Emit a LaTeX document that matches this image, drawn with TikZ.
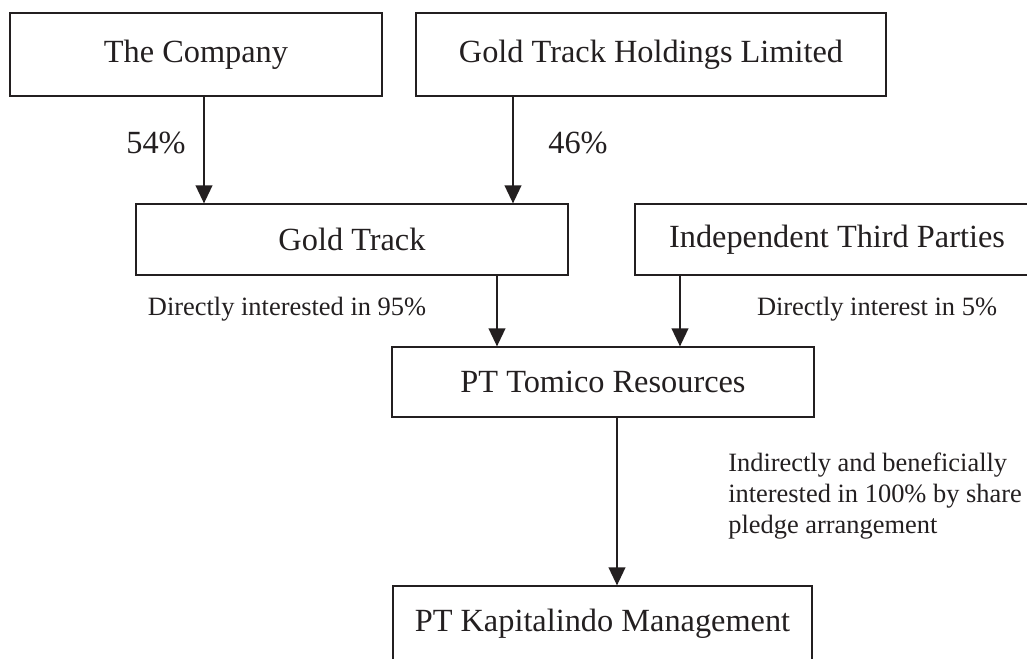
\documentclass[tikz,border=0pt]{standalone}
\usepackage{fontspec}
\setmainfont{Liberation Serif}
\usetikzlibrary{arrows.meta}
\definecolor{ink}{HTML}{231F20}
\tikzset{
  obox/.style={
    draw=ink, text=ink, line width=0.9pt, inner sep=0pt,
    align=center, font=\fontsize{23}{27}\selectfont
  },
  olink/.style={draw=ink, line width=1pt, -{Triangle[length=0.45cm, width=0.42cm]}},
  pct/.style={text=ink, inner sep=0pt, font=\fontsize{23}{27}\selectfont},
  onote/.style={text=ink, inner sep=0pt, align=left, font=\fontsize{18.8}{22.3}\selectfont}
}

\begin{document}
\begin{tikzpicture}
  \path[use as bounding box, clip] (0,0) rectangle (25.675,-16.475);

  % ---- Shareholders --------------------------------------------------------
  \node[obox, minimum width=9.3cm, minimum height=2.075cm] (company) at (4.9,-1.3625) {The Company};
  \node[obox, minimum width=11.75cm, minimum height=2.075cm] (gth) at (16.275,-1.3625) {Gold Track Holdings Limited};

  % ---- Middle tier ---------------------------------------------------------
  \node[obox, minimum width=10.8cm, minimum height=1.775cm] (goldtrack) at (8.8,-5.9875) {Gold Track};
  \node[obox, minimum width=10.1cm, minimum height=1.775cm] (itp) at (20.925,-5.9875) {Independent Third Parties};

  % ---- Operating companies -------------------------------------------------
  \node[obox, minimum width=10.55cm, minimum height=1.75cm] (tomico) at (15.075,-9.55) {PT Tomico Resources};
  \node[obox, minimum width=10.475cm, minimum height=1.9cm] (kapital) at (15.0625,-15.6) {PT Kapitalindo Management};

  % ---- Holdings ------------------------------------------------------------
  \draw[olink] (5.1,0 |- company.south) -- (5.1,0 |- goldtrack.north);
  \draw[olink] (12.825,0 |- gth.south) -- (12.825,0 |- goldtrack.north);
  \draw[olink] (12.425,0 |- goldtrack.south) -- (12.425,0 |- tomico.north);
  \draw[olink] (17.0,0 |- itp.south) -- (17.0,0 |- tomico.north);
  \draw[olink] (15.425,0 |- tomico.south) -- (15.425,0 |- kapital.north);

  % ---- Percentages ---------------------------------------------------------
  \node[pct] (p54) at (3.9,-3.575) {54\%};
  \node[pct] (p46) at (14.45,-3.575) {46\%};
  \node[onote] (n95) at (7.175,-7.725) {Directly interested in 95\%};
  \node[onote] (n5) at (21.925,-7.725) {Directly interest in 5\%};
  \node[onote, anchor=west] (n100) at (18.2,-12.4) {Indirectly and beneficially\\interested in 100\% by share\\pledge arrangement};

\end{tikzpicture}
\end{document}
